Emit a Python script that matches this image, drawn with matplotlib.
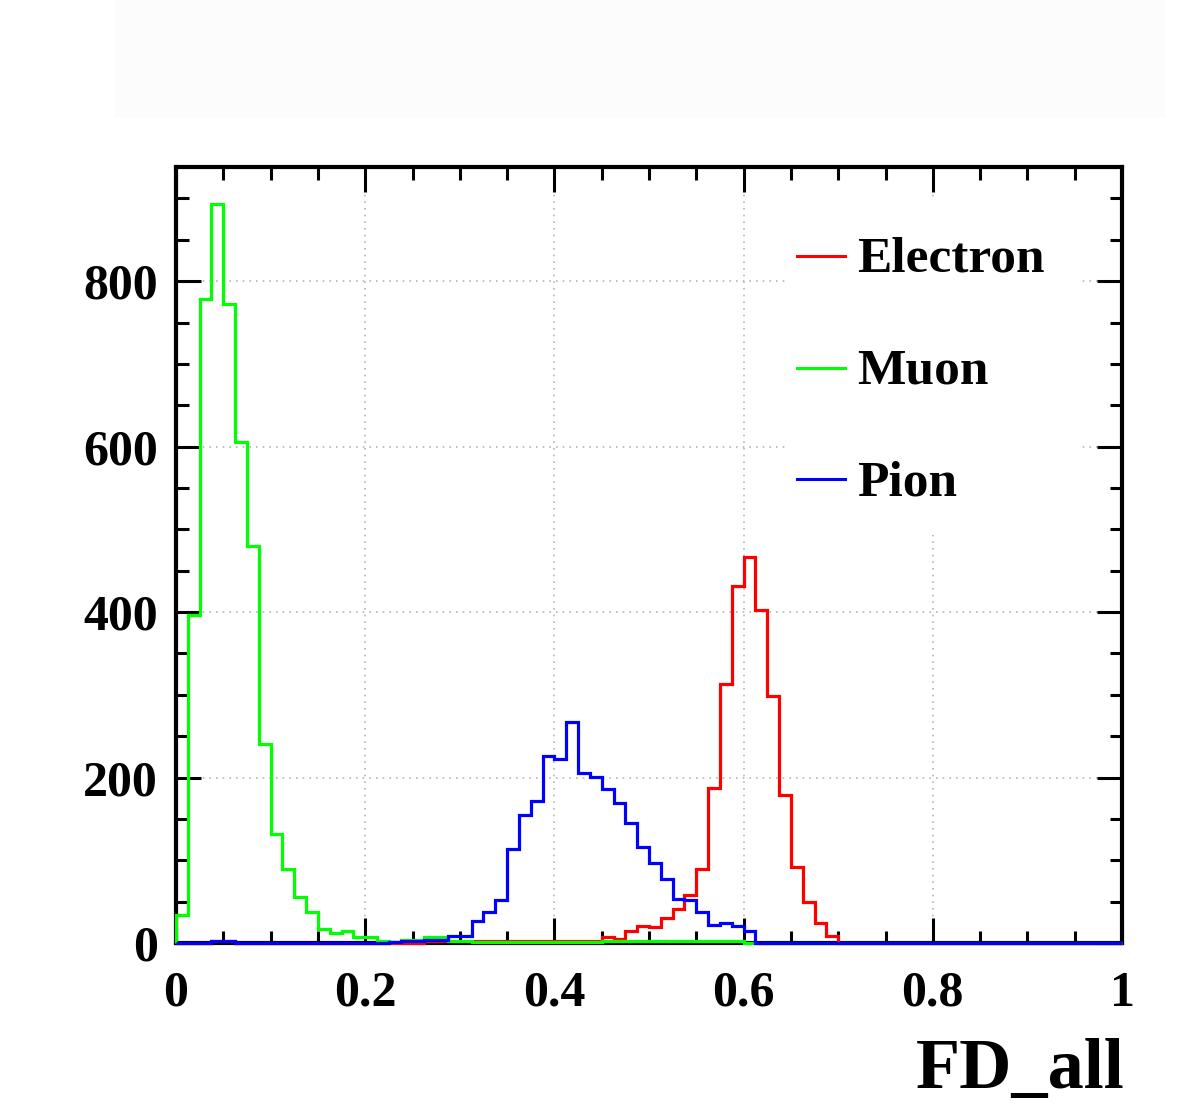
import numpy as np
import matplotlib
matplotlib.use("Agg")
import matplotlib.pyplot as plt
from matplotlib.patches import Rectangle
from matplotlib.lines import Line2D

# ---- data (80 bins on [0, 1]) ----
x_min, x_max, n_bins = 0.0, 1.0, 80
labels = ["Electron", "Muon", "Pion"]
colors = ["#ff0000", "#00ff00", "#0000ff"]

electron = [0, 0, 0, 2, 2, 0, 0, 0, 0, 0,
            0, 0, 0, 0, 0, 0, 0, 0, 0, 0,
            0, 2, 2, 2, 2, 2, 2, 2, 2, 2,
            2, 2, 2, 2, 2, 3, 7, 5, 15, 21,
            19, 30, 41, 58, 89, 187, 313, 431, 466, 403,
            298, 179, 92, 50, 24, 8, 0, 0, 0, 0,
            0, 0, 0, 0, 0, 0, 0, 0, 0, 0,
            0, 0, 0, 0, 0, 0, 0, 0, 0, 0]

muon = [34, 396, 779, 893, 772, 606, 480, 240, 132, 89,
        56, 37, 17, 12, 14, 7, 7, 2, 1, 4,
        4, 7, 7, 3, 2, 1, 1, 1, 1, 1,
        1, 1, 1, 1, 1, 1, 2, 2, 2, 2,
        2, 2, 2, 2, 2, 2, 2, 2, 0, 0,
        0, 0, 0, 0, 0, 0, 0, 0, 0, 0,
        0, 0, 0, 0, 0, 0, 0, 0, 0, 0,
        0, 0, 0, 0, 0, 0, 0, 0, 0, 0]

pion = [0, 0, 0, 3, 3, 0, 0, 0, 0, 0,
        0, 0, 0, 0, 0, 0, 0, 0, 1, 3,
        3, 4, 4, 8, 8, 26, 37, 52, 114, 155,
        172, 226, 222, 267, 205, 201, 186, 169, 145, 116,
        97, 77, 53, 52, 37, 22, 24, 20, 14, 0,
        0, 0, 0, 0, 0, 0, 0, 0, 0, 0,
        0, 0, 0, 0, 0, 0, 0, 0, 0, 0,
        0, 0, 0, 0, 0, 0, 0, 0, 0, 0]

series = [electron, muon, pion]
x_ticks = [0, 0.2, 0.4, 0.6, 0.8, 1]
x_ticklabels = ["0", "0.2", "0.4", "0.6", "0.8", "1"]
y_ticks = [0, 200, 400, 600, 800]
y_ticklabels = ["0", "200", "400", "600", "800"]
x_title = "FD_all"
y_top = 938

# ---- figure ----
W, H = 1182, 1111
fig = plt.figure(figsize=(W / 100, H / 100), dpi=100)
fig.patch.set_facecolor("white")
serif = "Liberation Serif"

# faint title-box
fig.patches.append(Rectangle((115 / W, 1 - 118 / H), (1165 - 115) / W, 118 / H,
                             transform=fig.transFigure, facecolor="#fcfcfc",
                             edgecolor="none", zorder=0))

L, R, T, B = 176, 1122, 167, 943
ax = fig.add_axes([L / W, 1 - B / H, (R - L) / W, (B - T) / H])
ax.set_xlim(x_min, x_max)
ax.set_ylim(0, y_top)

edges = np.linspace(x_min, x_max, n_bins + 1)
for vals, c, lab in zip(series, colors, labels):
    ax.stairs(vals, edges, baseline=0, fill=False, color=c, lw=2.3,
              zorder=3, clip_on=False, label=lab)

# grid
ax.set_axisbelow(True)
ax.grid(True, which="major", color="#b5b5b5", lw=1.2, linestyle=(0, (1, 3)))

# ticks
ax.set_xticks(x_ticks)
ax.set_xticklabels(x_ticklabels)
ax.set_yticks(y_ticks)
ax.set_yticklabels(y_ticklabels)
ax.set_xticks(np.arange(0, 1.0001, 0.05), minor=True)
ax.set_yticks(np.arange(0, y_top, 50), minor=True)
ax.tick_params(which="both", direction="in", top=True, right=True, width=2.2,
               color="black")
ax.tick_params(which="major", length=18)
ax.tick_params(which="minor", length=9)
ax.tick_params(axis="x", which="major", pad=20)
ax.tick_params(axis="y", which="major", pad=13)
for lbl in ax.get_xticklabels() + ax.get_yticklabels():
    lbl.set_fontfamily(serif)
    lbl.set_fontweight("bold")
    lbl.set_fontsize(36)
for sp in ax.spines.values():
    sp.set_linewidth(3.0)
    sp.set_zorder(2.5)

# legend (drawn manually, white box covering grid)
fig.patches.append(Rectangle((785 / W, 1 - 535 / H), (1082 - 785) / W, (535 - 200) / H,
                             transform=fig.transFigure, facecolor="white",
                             edgecolor="none", zorder=1.5))
leg_rows = [256, 368, 479]
for lab, c, yy in zip(labels, colors, leg_rows):
    fig.lines.append(Line2D([797 / W, 845 / W], [1 - yy / H, 1 - yy / H],
                            transform=fig.transFigure, color=c, lw=2.2, zorder=4))
    fig.text(857 / W, 1 - (yy + 16) / H, lab, fontfamily=serif, fontweight="bold",
             fontsize=37, ha="left", va="baseline", zorder=4)

# axis title
fig.text((R + 3) / W, 1 - 1088 / H, x_title, fontfamily=serif, fontweight="bold",
         fontsize=52, ha="right", va="baseline")

fig.savefig("out.png", dpi=100, facecolor="white")
